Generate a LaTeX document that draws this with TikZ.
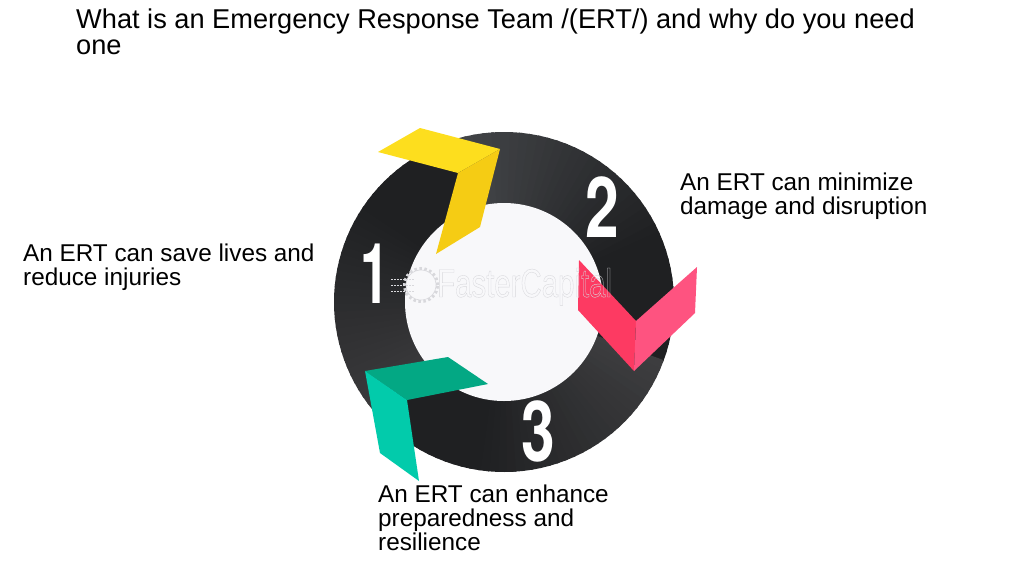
\documentclass[tikz,border=0pt]{standalone}
\usepackage{fontspec}
\setmainfont{Liberation Sans}
\newfontfamily\digitfont{TeX Gyre Heros}
\usetikzlibrary{calc}
\definecolor{yellowtop}{HTML}{FDDE1E}
\definecolor{yellowside}{HTML}{F5CC14}
\definecolor{pinkleft}{HTML}{FD3A62}
\definecolor{pinkright}{HTML}{FE5380}
\definecolor{greentop}{HTML}{03A884}
\definecolor{greenside}{HTML}{02CBAB}
\definecolor{ringdark}{HTML}{1F2022}
\definecolor{ringlighta}{HTML}{434548}
\definecolor{ringlightb}{HTML}{3D3D3F}
\definecolor{ringlightc}{HTML}{3A3A3C}
\definecolor{holecol}{HTML}{F8F8FA}
\definecolor{marklight}{HTML}{D8D8DC}
\tikzset{
  label/.style={anchor=north west,align=left,inner sep=0pt,font=\fontsize{24.3}{24}\selectfont,text=black},
  titletext/.style={anchor=north west,align=left,inner sep=0pt,font=\fontsize{27.2}{26}\selectfont,text=black},
  digit/.style={inner sep=0pt,text=white,font=\digitfont\bfseries\fontsize{84}{84}\selectfont}
}
\begin{document}
\begin{tikzpicture}[x=1pt,y=-1pt]
\useasboundingbox (0,0) rectangle (1024,576);
\fill[white] (0,0) rectangle (1024,576);
% ring, clockwise on screen from each arrow to the next
\foreach \sa/\sb/\ca in {107/-20/ringlighta,-20/-140/ringlightb,-140/-253/ringlightc}{
  \foreach \i in {0,...,39}{
    \pgfmathsetmacro{\pa}{\sa+\i*(\sb-\sa)/40}
    \pgfmathsetmacro{\pb}{\sa+(\i+1.3)*(\sb-\sa)/40}
    \pgfmathsetmacro{\mixv}{100*min(1,\i/26)}
    \fill[color=ringdark!\mixv!\ca] (504,302) -- ++({170*cos(\pa)},{-170*sin(\pa)}) arc[start angle=\pa,end angle=\pb,x radius=170,y radius=-170] -- cycle;
  }
}
\fill[holecol] (504,302) circle[radius=99];
% digits
\node[digit,anchor=base] (one) at (375,303) {\scalebox{0.62}[1]{1}};
\node[digit,anchor=base] (two) at (602,237) {\scalebox{0.72}[1]{2}};
\node[digit,anchor=base] (three) at (538,461) {\scalebox{0.72}[1]{3}};
% yellow arrow
\fill[yellowtop] (378,152) -- (420,128) -- (500,149) -- (458,173) -- cycle;
\fill[yellowside] (458,173) -- (500,149) -- (480,227) -- (436,254) -- cycle;
% pink arrow
\fill[pinkleft] (579,260) -- (636,321) -- (634,371) -- (578,310) -- cycle;
\fill[pinkright] (636,321) -- (697,267) -- (695,313) -- (634,371) -- cycle;
% green arrow
\fill[greentop] (365,371) -- (448,357) -- (488,384) -- (407,400) -- cycle;
\fill[greenside] (365,371) -- (407,400) -- (419,481) -- (380,453) -- cycle;
% watermark
\node[inner sep=0pt,anchor=base west,text=marklight] (mark) at (437,297) {\fontsize{40}{40}\selectfont\scalebox{0.735}[1]{\special{pdf:code 1 Tr 0.4 w}\color{marklight}FasterCapital\special{pdf:code 0 Tr}}};
\node[circle,draw=marklight,dash pattern=on 2.5pt off 2.5pt,line width=3pt,minimum size=33pt,inner sep=0pt] (gearteeth) at (421,285) {};
\node[circle,fill=holecol,minimum size=30pt,inner sep=0pt] (gearmask) at (421,285) {};
\node[circle,draw=marklight,line width=0.6pt,minimum size=30pt,inner sep=0pt] (gearrim) at (421,285) {};
\foreach \yy in {279,285,291}{
  \draw[marklight,line width=0.8pt,dash pattern=on 1.5pt off 1.5pt] (391,\yy) -- (414,\yy);
}
% texts
\node[titletext] (title) at (76,9) {What is an Emergency Response Team /(ERT/) and why do you need\\one};
\node[label] (t1) at (23,244) {An ERT can save lives and\\reduce injuries};
\node[label] (t2) at (680,173) {An ERT can minimize\\damage and disruption};
\node[label] (t3) at (378,485) {An ERT can enhance\\preparedness and\\resilience};
\end{tikzpicture}
\end{document}
